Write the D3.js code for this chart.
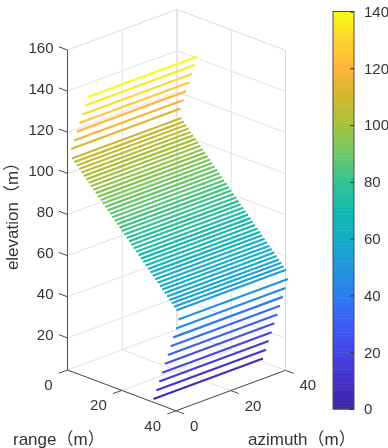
<!DOCTYPE html>
<html><head><meta charset="utf-8">
<script src="https://cdn.jsdelivr.net/npm/d3@7/dist/d3.min.js"></script>
<style>html,body{margin:0;padding:0;background:#fff}svg{display:block;filter:blur(0.3px)}
text{font-family:"Liberation Sans","Noto Sans CJK SC",sans-serif;font-size:15px;fill:#333}</style>
</head><body><script>
const elevations=[6,10.8,15.6,20.4,25.2,30,34.8,39.6,44.4,49.2,
53.4,54.64,55.88,57.12,58.36,59.6,60.84,62.08,63.32,64.56,65.8,67.04,68.28,69.52,70.76,72,73.24,74.48,75.72,76.96,78.2,79.44,80.68,81.92,83.16,84.4,85.64,86.88,88.12,89.36,90.6,91.84,93.08,94.32,95.56,96.8,98.04,99.28,100.52,101.76,103,104.24,105.48,106.72,108,
112.5,117.2,122,126.7,131.4,136.2,140.9];
const rangeStart=[31.7,32.8,33.8,34.9,35.9,37,38,39,40,40.9,
40.2,39.3,38.4,37.6,36.7,35.8,34.9,34.1,33.2,32.3,31.4,30.6,29.7,28.8,27.9,27.1,26.2,25.3,24.4,23.5,22.7,21.8,20.9,20,19.2,18.3,17.4,16.5,15.7,14.8,13.9,13,12.2,11.3,10.4,9.5,8.6,7.8,6.9,6,5.1,4.3,3.4,2.5,1.6,
1.3,2.4,3.4,4.4,5.5,6.5,7.5];
const azimuthEnds=[0,40];
const zTicks=[20,40,60,80,100,120,140,160];
const rangeTicks=[0,20,40], azimuthTicks=[0,20,40];
const colorTicks=[0,20,40,60,80,100,120,140];
const colorStops=[0,10,20,30,40,50,60,70,80,90,100,110,120,130,140];
const colorValues=["#3e26a8","#4430c8","#4644e6","#3d5cf4","#2c7cf0","#1f96dc","#14aecb","#14b9b0","#30c392","#70c86a","#a6c23c","#d3b82b","#ffb43a","#fcd32f","#f9fb15"];

const W=388,H=448;
const svg=d3.select("body").append("svg").attr("width",W).attr("height",H);
const color=d3.scaleLinear().domain(colorStops).range(colorValues);
const sz=d3.scaleLinear().domain([4.4,160]).range([0,-320]);
const rx=d3.scaleLinear().domain([0,40]).range([0,108.5]);
const ry=d3.scaleLinear().domain([0,40]).range([0,40.8]);
const ax=d3.scaleLinear().domain([0,40]).range([0,109.5]);
const ay=d3.scaleLinear().domain([0,40]).range([0,-40.5]);
const ox=67.5,oy=370;
const zMin=4.4,zMax=160;
const P=(a,r,z)=>[ox+rx(r)+ax(a),oy+ry(r)+ay(a)+sz(z)];
const line=d3.line();
const grid=svg.append("g").attr("fill","none").attr("stroke","#e2e2e2").attr("stroke-width",1);
const seg=(g,pts)=>g.append("path").attr("d",line(pts));
zTicks.forEach(z=>{
  seg(grid,[P(0,0,z),P(40,0,z),P(40,40,z)]);
});
rangeTicks.forEach(r=>{ seg(grid,[P(0,r,zMin),P(40,r,zMin)]); seg(grid,[P(40,r,zMin),P(40,r,zMax)]);});
azimuthTicks.forEach(a=>{ seg(grid,[P(a,0,zMin),P(a,40,zMin)]); seg(grid,[P(a,0,zMin),P(a,0,zMax)]);});
seg(grid,[P(40,0,zMin),P(40,0,zMax)]);
seg(grid,[P(0,0,zMax),P(40,0,zMax),P(40,40,zMax)]);
seg(grid.append("g").attr("stroke","#d8d8d8"),[P(40,40,zMin),P(40,40,zMax)]);
svg.append("g").selectAll("path").data(elevations).join("path")
 .attr("d",(z,i)=>line([P(azimuthEnds[0],rangeStart[i],z),P(azimuthEnds[1],rangeStart[i],z)]))
 .attr("stroke",z=>color(z)).attr("stroke-width",2.2).attr("fill","none");
const axG=svg.append("g").attr("fill","none").attr("stroke","#4a4a4a").attr("stroke-width",1);
seg(axG,[P(0,0,zMax),P(0,0,zMin)]);
seg(axG,[P(0,0,zMin),P(0,40,zMin),P(40,40,zMin)]);
zTicks.forEach(z=>seg(axG,[P(0,0,z),P(0,-3.2,z)]));
rangeTicks.forEach(r=>seg(axG,[P(0,r,zMin),P(-3.2,r,zMin)]));
azimuthTicks.forEach(a=>seg(axG,[P(a,40,zMin),P(a,43,zMin)]));
const lbl=svg.append("g");
zTicks.forEach(z=>{const p=P(0,0,z);lbl.append("text").attr("x",53.5).attr("y",p[1]+2.5).attr("text-anchor","end").text(z);});
rangeTicks.forEach(r=>{const p=P(0,r,zMin);lbl.append("text").attr("x",p[0]-15).attr("y",p[1]+20).attr("text-anchor","end").text(r);});
azimuthTicks.forEach(a=>{const p=P(a,40,zMin);lbl.append("text").attr("x",p[0]+14).attr("y",p[1]+20).attr("text-anchor","start").text(a);});
lbl.append("text").attr("x",13).attr("y",444.5).style("font-size","17px").text("range（m）");
lbl.append("text").attr("x",248).attr("y",444.5).style("font-size","17px").text("azimuth（m）");
lbl.append("text").attr("transform","translate(17.5,212) rotate(-90)").attr("text-anchor","middle").style("font-size","17px").text("elevation（m）");
const cy=d3.scaleLinear().domain([0,140]).range([409,11.5]);
const barX=333,barW=21;
const levels=d3.range(colorTicks[0],colorTicks[colorTicks.length-1],1);
svg.append("g").selectAll("rect").data(levels).join("rect")
 .attr("x",barX).attr("width",barW).attr("y",d=>cy(d+1)).attr("height",d=>cy(d)-cy(d+1)+0.5).attr("fill",d=>color(d+0.5));
svg.append("rect").attr("x",barX).attr("y",cy(140)).attr("width",barW).attr("height",cy(0)-cy(140)).attr("fill","none").attr("stroke","#4a4a4a");
const cAxis=d3.axisRight(cy).tickValues(colorTicks).tickSize(-4).tickPadding(10);
const cg=svg.append("g").attr("transform",`translate(${barX+barW},0)`).call(cAxis);
cg.select(".domain").remove();
cg.selectAll("line").attr("stroke","#333");
cg.selectAll("text").attr("style","font-family:'Liberation Sans';font-size:15px;fill:#333");
</script></body></html>
